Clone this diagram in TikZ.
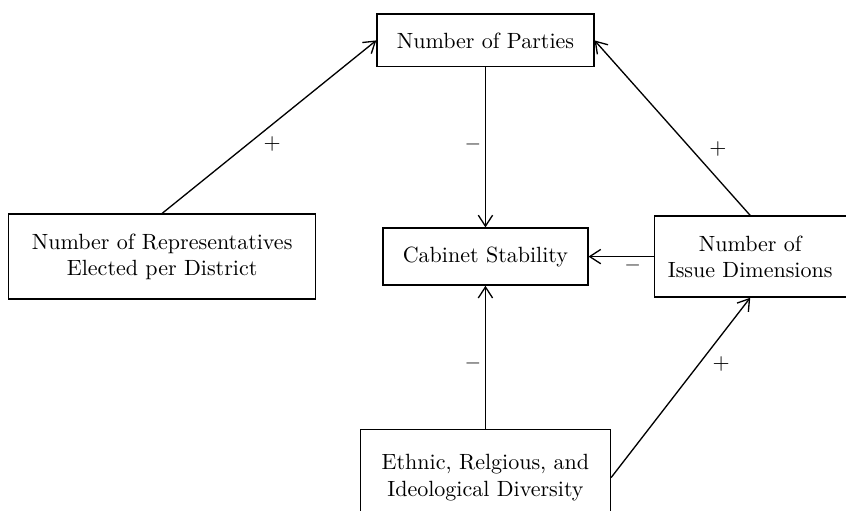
\documentclass[tikz,border=0pt]{standalone}
\usepackage{amsmath}
\usepackage{tikz}
\usetikzlibrary{arrows.meta,positioning}

\begin{document}
\begin{tikzpicture}[
    every node/.style={draw, rectangle, align=center, line width=0.6pt},
    arrow/.style={-{Straight Barb[length=5pt,width=6.5pt]}, line width=0.6pt},
    sign/.style={draw=none, inner sep=2pt}
]
\useasboundingbox (-220.4pt,116.5pt) rectangle (163.7pt,-115.1pt);

% Central outcome
\node[minimum width=93pt, minimum height=25.9pt] (cab) at (0,0) {Cabinet Stability};

% Causes
\node[minimum width=98.5pt, minimum height=24pt] (parties) [above=72.6pt of cab] {Number of Parties};
\node[minimum width=87.2pt, minimum height=36.8pt] (issues) [right=29.5pt of cab] {Number of\\Issue Dimensions};
\node[minimum width=139.4pt, minimum height=38.6pt] (reps) [left=30pt of cab] {Number of Representatives\\Elected per District};
\node[minimum width=113.5pt, minimum height=43.6pt, anchor=north] (div) at ([yshift=-65pt]cab.south) {Ethnic, Relgious, and\\Ideological Diversity};

% Effects on party system
\draw[arrow] (reps.north) -- node[sign, pos=0.46, anchor=north west, inner sep=1pt] {$+$} (parties.west);
\draw[arrow] (issues.north) -- node[sign, pos=0.38, right=6pt] {$+$} (parties.east);

% Effects on stability
\draw[arrow] (parties) -- node[sign, midway, left=0.5pt] {\textbf{--}} (cab);
\draw[arrow] (issues) -- node[sign, pos=0.32, below=1.5pt] {\textbf{--}} (cab);
\draw[arrow] (div) -- node[sign, pos=0.44, left=0.5pt] {\textbf{--}} (cab);

% Diversity and issue dimensions
\draw[arrow] (div.east) -- node[sign, pos=0.63, right=4pt] {$+$} (issues.south);

\end{tikzpicture}
\end{document}
